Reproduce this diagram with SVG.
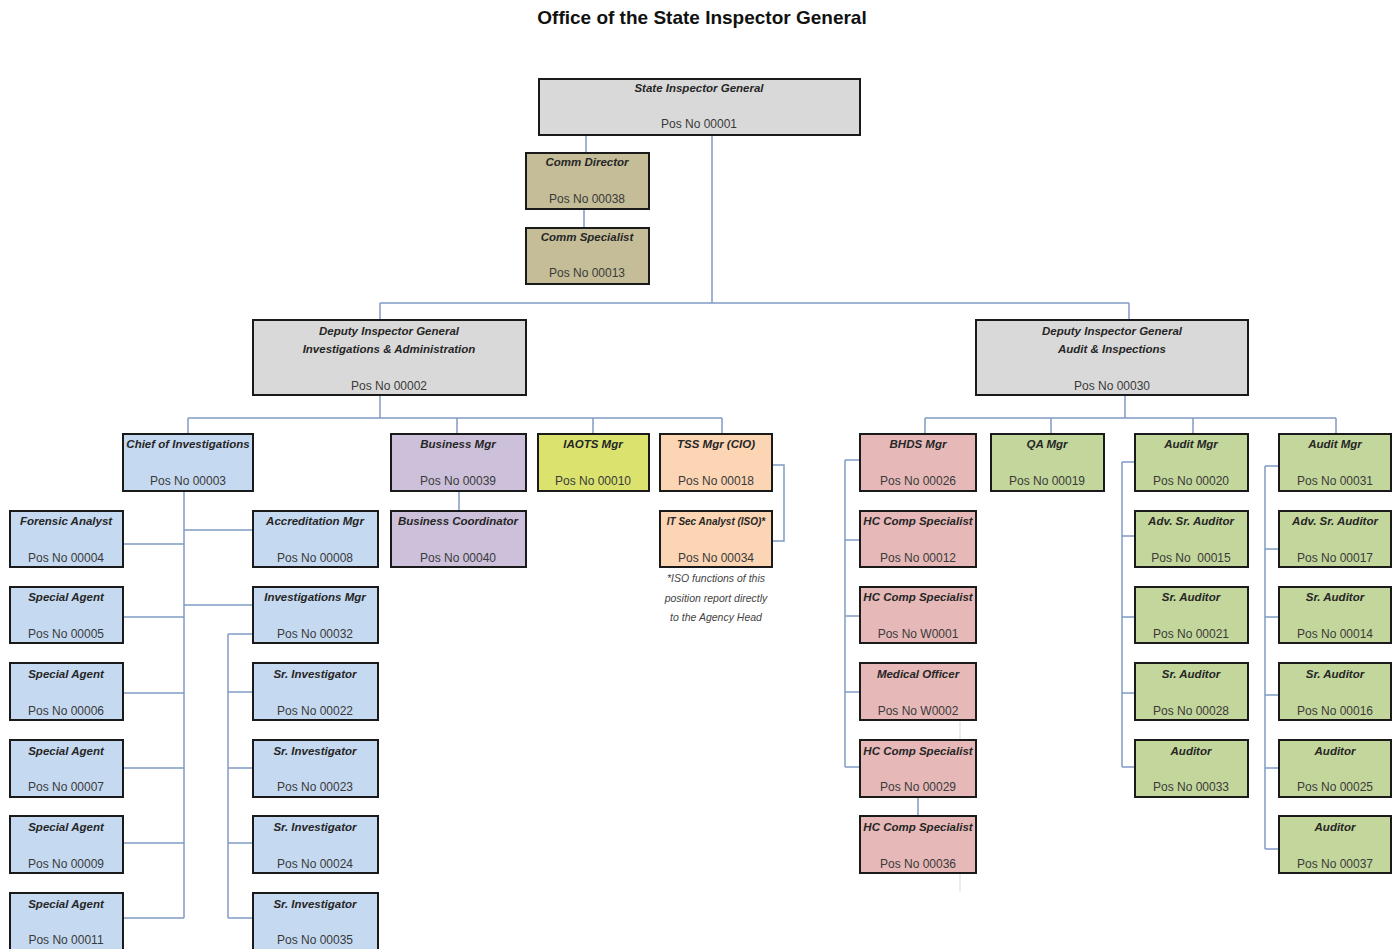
<svg xmlns="http://www.w3.org/2000/svg" width="1398" height="949" viewBox="0 0 1398 949">
<style>
.bx{stroke:#1a1a1a;stroke-width:2}
.g{fill:#d9d9d9}.tan{fill:#c4bd97}.bl{fill:#c5d9f1}.lv{fill:#ccc0da}.yl{fill:#dbe36e}.pc{fill:#fcd5b4}.pk{fill:#e6b9b8}.gr{fill:#c3d69b}
.t{font-family:"Liberation Sans",Arial,sans-serif;font-size:11.5px;font-weight:bold;font-style:italic;fill:#262626;text-anchor:middle}
.p{font-family:"Liberation Sans",Arial,sans-serif;font-size:12px;fill:#3a3a3a;text-anchor:middle}
.n{font-family:"Liberation Sans",Arial,sans-serif;font-size:10.5px;font-style:italic;fill:#444;text-anchor:middle}
.h{font-family:"Liberation Sans",Arial,sans-serif;font-size:19px;font-weight:bold;fill:#111;text-anchor:middle}
.c{fill:none;stroke:#7f9cc4;stroke-width:1.5}
.f{fill:none;stroke:#e6e6e6;stroke-width:1.5}
</style>
<rect width="1398" height="949" fill="#fff"/>
<text class="h" x="702" y="24">Office of the State Inspector General</text>
<g id="connectors">
<path class="c" d="M586 135V153M584 209V228M712 135V303M380 303H1129M380 303V320M1129 303V320"/>
<path class="c" d="M380 395V418M188 418H722M188 418V434M457 418V434M593 418V434M722 418V434M459 491V511M772 465H784V541H772"/>
<path class="c" d="M184 491V918M123 544H184M123 617H184M123 693H184M123 768H184M123 843H184M123 918H184M184 530H253M184 605H253"/>
<path class="c" d="M228 634V918M228 634H253M228 692H253M228 768H253M228 843H253M228 918H253"/>
<path class="c" d="M1125 395V418M925 418H1336M925 418V434M1051 418V434M1193 418V434M1336 418V434"/>
<path class="c" d="M845 460V767M845 460H860M845 540H860M845 616H860M845 692H860M845 767H860M918 797V816"/>
<path class="c" d="M1122 462V767M1122 462H1135M1122 536H1135M1122 617H1135M1122 693H1135M1122 767H1135"/>
<path class="c" d="M1265 466V849M1265 466H1279M1265 549H1279M1265 617H1279M1265 695H1279M1265 768H1279M1265 849H1279"/>
<path class="f" d="M960 720V740M960 873V892"/>
</g>
<g id="n00001"><rect class="bx g" x="539" y="79" width="321" height="56"/><text class="t" x="699" y="92">State Inspector General</text><text class="p" x="699" y="128">Pos No 00001</text></g>
<g id="n00038"><rect class="bx tan" x="526" y="153" width="123" height="56"/><text class="t" x="587" y="166">Comm Director</text><text class="p" x="587" y="203">Pos No 00038</text></g>
<g id="n00013"><rect class="bx tan" x="526" y="228" width="123" height="56"/><text class="t" x="587" y="241">Comm Specialist</text><text class="p" x="587" y="277">Pos No 00013</text></g>
<g id="n00002"><rect class="bx g" x="253" y="320" width="273" height="75"/><text class="t" x="389" y="335">Deputy Inspector General</text><text class="t" x="389" y="353">Investigations &amp; Administration</text><text class="p" x="389" y="390">Pos No 00002</text></g>
<g id="n00030"><rect class="bx g" x="976" y="320" width="272" height="75"/><text class="t" x="1112" y="335">Deputy Inspector General</text><text class="t" x="1112" y="353">Audit &amp; Inspections</text><text class="p" x="1112" y="390">Pos No 00030</text></g>
<g id="n00003"><rect class="bx bl" x="123" y="434" width="130" height="57"/><text class="t" x="188" y="448">Chief of Investigations</text><text class="p" x="188" y="485">Pos No 00003</text></g>
<g id="n00039"><rect class="bx lv" x="391" y="434" width="135" height="57"/><text class="t" x="458" y="448">Business Mgr</text><text class="p" x="458" y="485">Pos No 00039</text></g>
<g id="n00010"><rect class="bx yl" x="538" y="434" width="111" height="57"/><text class="t" x="593" y="448">IAOTS Mgr</text><text class="p" x="593" y="485">Pos No 00010</text></g>
<g id="n00018"><rect class="bx pc" x="660" y="434" width="112" height="57"/><text class="t" x="716" y="448">TSS Mgr (CIO)</text><text class="p" x="716" y="485">Pos No 00018</text></g>
<g id="n00040"><rect class="bx lv" x="391" y="511" width="135" height="56"/><text class="t" x="458" y="525">Business Coordinator</text><text class="p" x="458" y="562">Pos No 00040</text></g>
<g id="n00034"><rect class="bx pc" x="660" y="511" width="112" height="56"/><text class="t" x="716" y="525" style="font-size:10px">IT Sec Analyst (ISO)*</text><text class="p" x="716" y="562">Pos No 00034</text></g>
<g id="note"><text class="n" x="716" y="582">*ISO functions of this</text><text class="n" x="716" y="602">position report directly</text><text class="n" x="716" y="621">to the Agency Head</text></g>
<g id="n00004"><rect class="bx bl" x="10" y="511" width="113" height="56"/><text class="t" x="66" y="525">Forensic Analyst</text><text class="p" x="66" y="562">Pos No 00004</text></g>
<g id="n00005"><rect class="bx bl" x="10" y="587" width="113" height="56"/><text class="t" x="66" y="601">Special Agent</text><text class="p" x="66" y="638">Pos No 00005</text></g>
<g id="n00006"><rect class="bx bl" x="10" y="663" width="113" height="57"/><text class="t" x="66" y="678">Special Agent</text><text class="p" x="66" y="715">Pos No 00006</text></g>
<g id="n00007"><rect class="bx bl" x="10" y="740" width="113" height="57"/><text class="t" x="66" y="755">Special Agent</text><text class="p" x="66" y="791">Pos No 00007</text></g>
<g id="n00009"><rect class="bx bl" x="10" y="816" width="113" height="57"/><text class="t" x="66" y="831">Special Agent</text><text class="p" x="66" y="868">Pos No 00009</text></g>
<g id="n00011"><rect class="bx bl" x="10" y="893" width="113" height="57"/><text class="t" x="66" y="908">Special Agent</text><text class="p" x="66" y="944">Pos No 00011</text></g>
<g id="n00008"><rect class="bx bl" x="253" y="511" width="125" height="56"/><text class="t" x="315" y="525">Accreditation Mgr</text><text class="p" x="315" y="562">Pos No 00008</text></g>
<g id="n00032"><rect class="bx bl" x="253" y="587" width="125" height="56"/><text class="t" x="315" y="601">Investigations Mgr</text><text class="p" x="315" y="638">Pos No 00032</text></g>
<g id="n00022"><rect class="bx bl" x="253" y="663" width="125" height="57"/><text class="t" x="315" y="678">Sr. Investigator</text><text class="p" x="315" y="715">Pos No 00022</text></g>
<g id="n00023"><rect class="bx bl" x="253" y="740" width="125" height="57"/><text class="t" x="315" y="755">Sr. Investigator</text><text class="p" x="315" y="791">Pos No 00023</text></g>
<g id="n00024"><rect class="bx bl" x="253" y="816" width="125" height="57"/><text class="t" x="315" y="831">Sr. Investigator</text><text class="p" x="315" y="868">Pos No 00024</text></g>
<g id="n00035"><rect class="bx bl" x="253" y="893" width="125" height="57"/><text class="t" x="315" y="908">Sr. Investigator</text><text class="p" x="315" y="944">Pos No 00035</text></g>
<g id="n00026"><rect class="bx pk" x="860" y="434" width="116" height="57"/><text class="t" x="918" y="448">BHDS Mgr</text><text class="p" x="918" y="485">Pos No 00026</text></g>
<g id="n00019"><rect class="bx gr" x="991" y="434" width="113" height="57"/><text class="t" x="1047" y="448">QA Mgr</text><text class="p" x="1047" y="485">Pos No 00019</text></g>
<g id="n00020"><rect class="bx gr" x="1135" y="434" width="113" height="57"/><text class="t" x="1191" y="448">Audit Mgr</text><text class="p" x="1191" y="485">Pos No 00020</text></g>
<g id="n00031"><rect class="bx gr" x="1279" y="434" width="112" height="57"/><text class="t" x="1335" y="448">Audit Mgr</text><text class="p" x="1335" y="485">Pos No 00031</text></g>
<g id="n00012"><rect class="bx pk" x="860" y="511" width="116" height="56"/><text class="t" x="918" y="525">HC Comp Specialist</text><text class="p" x="918" y="562">Pos No 00012</text></g>
<g id="nW0001"><rect class="bx pk" x="860" y="587" width="116" height="56"/><text class="t" x="918" y="601">HC Comp Specialist</text><text class="p" x="918" y="638">Pos No W0001</text></g>
<g id="nW0002"><rect class="bx pk" x="860" y="663" width="116" height="57"/><text class="t" x="918" y="678">Medical Officer</text><text class="p" x="918" y="715">Pos No W0002</text></g>
<g id="n00029"><rect class="bx pk" x="860" y="740" width="116" height="57"/><text class="t" x="918" y="755">HC Comp Specialist</text><text class="p" x="918" y="791">Pos No 00029</text></g>
<g id="n00036"><rect class="bx pk" x="860" y="816" width="116" height="57"/><text class="t" x="918" y="831">HC Comp Specialist</text><text class="p" x="918" y="868">Pos No 00036</text></g>
<g id="n00015"><rect class="bx gr" x="1135" y="511" width="113" height="56"/><text class="t" x="1191" y="525">Adv. Sr. Auditor</text><text class="p" x="1191" y="562" xml:space="preserve">Pos No  00015</text></g>
<g id="n00021"><rect class="bx gr" x="1135" y="587" width="113" height="56"/><text class="t" x="1191" y="601">Sr. Auditor</text><text class="p" x="1191" y="638">Pos No 00021</text></g>
<g id="n00028"><rect class="bx gr" x="1135" y="663" width="113" height="57"/><text class="t" x="1191" y="678">Sr. Auditor</text><text class="p" x="1191" y="715">Pos No 00028</text></g>
<g id="n00033"><rect class="bx gr" x="1135" y="740" width="113" height="57"/><text class="t" x="1191" y="755">Auditor</text><text class="p" x="1191" y="791">Pos No 00033</text></g>
<g id="n00017"><rect class="bx gr" x="1279" y="511" width="112" height="56"/><text class="t" x="1335" y="525">Adv. Sr. Auditor</text><text class="p" x="1335" y="562">Pos No 00017</text></g>
<g id="n00014"><rect class="bx gr" x="1279" y="587" width="112" height="56"/><text class="t" x="1335" y="601">Sr. Auditor</text><text class="p" x="1335" y="638">Pos No 00014</text></g>
<g id="n00016"><rect class="bx gr" x="1279" y="663" width="112" height="57"/><text class="t" x="1335" y="678">Sr. Auditor</text><text class="p" x="1335" y="715">Pos No 00016</text></g>
<g id="n00025"><rect class="bx gr" x="1279" y="740" width="112" height="57"/><text class="t" x="1335" y="755">Auditor</text><text class="p" x="1335" y="791">Pos No 00025</text></g>
<g id="n00037"><rect class="bx gr" x="1279" y="816" width="112" height="57"/><text class="t" x="1335" y="831">Auditor</text><text class="p" x="1335" y="868">Pos No 00037</text></g>
</svg>
